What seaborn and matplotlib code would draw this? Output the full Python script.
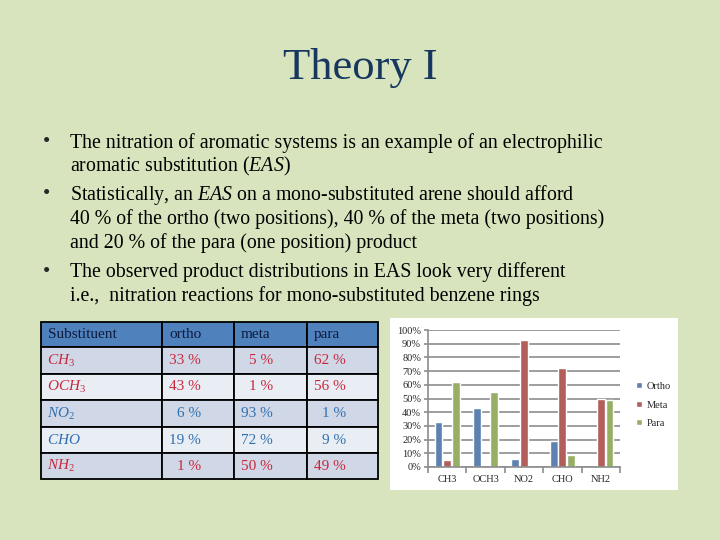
import matplotlib
matplotlib.use("Agg")
import matplotlib.pyplot as plt
import pandas as pd
import seaborn as sns
from matplotlib.patches import Rectangle
from matplotlib.ticker import FixedLocator, MultipleLocator, PercentFormatter

# ---- data ----
substituents = ["CH3", "OCH3", "NO2", "CHO", "NH2"]
substituent_labels = [r"$CH_3$", r"$OCH_3$", r"$NO_2$", r"$CHO$", r"$NH_2$"]
ortho_para_directing = [True, True, False, False, True]

table_header = ["Substituent", "ortho", "meta", "para"]
table_ortho = [33, 43, 6, 19, 1]
table_meta = [5, 1, 93, 72, 50]
table_para = [62, 56, 1, 9, 49]

series_names = ["Ortho", "Meta", "Para"]
chart_ortho = [33, 43, 6, 19, 0]
chart_meta = [5, 0, 93, 72, 50]
chart_para = [62, 55, 0, 9, 49]

title = "Theory I"
bullets = [
    ["The nitration of aromatic systems is an example of an electrophilic",
     r"aromatic substitution ($\mathit{EAS}$)"],
    [r"Statistically, an $\mathit{EAS}$ on a mono-substituted arene should afford",
     "40 % of the ortho (two positions), 40 % of the meta (two positions)",
     "and 20 % of the para (one position) product"],
    ["The observed product distributions in EAS look very different",
     "i.e.,  nitration reactions for mono-substituted benzene rings"],
]

# ---- style ----
BG = "#d7e4bd"
SERIF = "Liberation Serif"
sns.set_style("white")
plt.rcParams["font.family"] = [SERIF, "DejaVu Serif"]
plt.rcParams["mathtext.fontset"] = "custom"
plt.rcParams["mathtext.rm"] = SERIF
plt.rcParams["mathtext.it"] = SERIF + ":italic"
plt.rcParams["mathtext.bf"] = SERIF + ":bold"

W, H = 720, 540
fig = plt.figure(figsize=(7.2, 5.4), dpi=100, facecolor=BG)

# pixel canvas for slide text and the table
canvas = fig.add_axes([0, 0, 1, 1], zorder=0)
canvas.set_xlim(0, W)
canvas.set_ylim(H, 0)
canvas.axis("off")

canvas.text(360, 68, title, ha="center", va="center", fontsize=32, color="#17375e")

line_y = [143, 166, 195, 219, 243, 272, 296]
i = 0
for block in bullets:
    for j, line in enumerate(block):
        if j == 0:
            canvas.text(47, line_y[i], "\u2022", ha="center", va="center", fontsize=15)
        canvas.text(70, line_y[i], line, ha="left", va="center", fontsize=14.3, color="black")
        i += 1

# ---- table ----
col_edges = [41, 162, 234, 307, 378]
row_edges = [322, 347, 374, 400, 427, 453, 479]
header_fill = "#4f81bd"
row_fills = ["#d0d8e8", "#e9edf4"]
red, blue = "#c8283c", "#2f6fae"

for c in range(4):
    x0, x1 = col_edges[c], col_edges[c + 1]
    canvas.add_patch(Rectangle((x0, row_edges[0]), x1 - x0, row_edges[1] - row_edges[0],
                               facecolor=header_fill, edgecolor="black", lw=1.3))
    canvas.text(x0 + 7, (row_edges[0] + row_edges[1]) / 2, table_header[c],
                ha="left", va="center", fontsize=11, color="#0d1b3e")

table_cols = [table_ortho, table_meta, table_para]
for r, label in enumerate(substituent_labels):
    y0, y1 = row_edges[r + 1], row_edges[r + 2]
    yc = (y0 + y1) / 2
    colour = red if ortho_para_directing[r] else blue
    for c in range(4):
        x0, x1 = col_edges[c], col_edges[c + 1]
        canvas.add_patch(Rectangle((x0, y0), x1 - x0, y1 - y0,
                                   facecolor=row_fills[r % 2], edgecolor="black", lw=1.3))
    canvas.text(col_edges[0] + 6, yc, label, ha="left", va="center", fontsize=11, color=colour)
    for c, vals in enumerate(table_cols):
        canvas.text(col_edges[c + 1] + 39, yc, f"{vals[r]} %", ha="right", va="center",
                    fontsize=11, color=colour)

# ---- chart ----
canvas.add_patch(Rectangle((390, 318), 288, 172, facecolor="white", edgecolor="none"))

df = pd.DataFrame({
    "group": substituents * 3,
    "series": [s for s in series_names for _ in substituents],
    "value": [v / 100 for v in chart_ortho + chart_meta + chart_para],
})

ax = fig.add_axes([428 / W, 1 - 467 / H, 192 / W, 137 / H], zorder=1)
ax.set_facecolor("white")
sns.barplot(data=df, x="group", y="value", hue="series", order=substituents,
            hue_order=series_names, palette=["#4f81bd", "#c0504d", "#9bbb59"],
            width=0.68, gap=0.1, ax=ax, errorbar=None)

grid_grey = "#8c8c8c"
ax.set_ylim(0, 1)
ax.set_xlim(-0.5, len(substituents) - 0.5)
ax.yaxis.set_major_locator(MultipleLocator(0.1))
ax.yaxis.set_major_formatter(PercentFormatter(1.0, decimals=0))
ax.yaxis.grid(True, color=grid_grey, lw=1.2)
ax.set_axisbelow(True)
ax.set_xlabel("")
ax.set_ylabel("")
for side in ["top", "right"]:
    ax.spines[side].set_visible(False)
for side in ["left", "bottom"]:
    ax.spines[side].set_color(grid_grey)
    ax.spines[side].set_linewidth(1.2)
ax.xaxis.set_minor_locator(FixedLocator([k - 0.5 for k in range(len(substituents) + 1)]))
ax.tick_params(axis="x", which="major", length=0, pad=6, labelsize=7.5)
ax.tick_params(axis="x", which="minor", length=4, color=grid_grey, width=1.2, direction="out")
ax.tick_params(axis="y", length=3, color=grid_grey, width=1.2, direction="out",
               pad=2, labelsize=7.5)
ax.tick_params(left=True, bottom=True)
ax.xaxis.set_tick_params(which="minor", bottom=True)

ax.legend(loc="center left", bbox_to_anchor=(627 / W, 1 - 405 / H),
          bbox_transform=fig.transFigure, frameon=False, fontsize=7.5,
          handlelength=0.5, handleheight=0.5, handletextpad=0.5, labelspacing=0.9)

fig.savefig("out.png", dpi=100, facecolor=BG)
